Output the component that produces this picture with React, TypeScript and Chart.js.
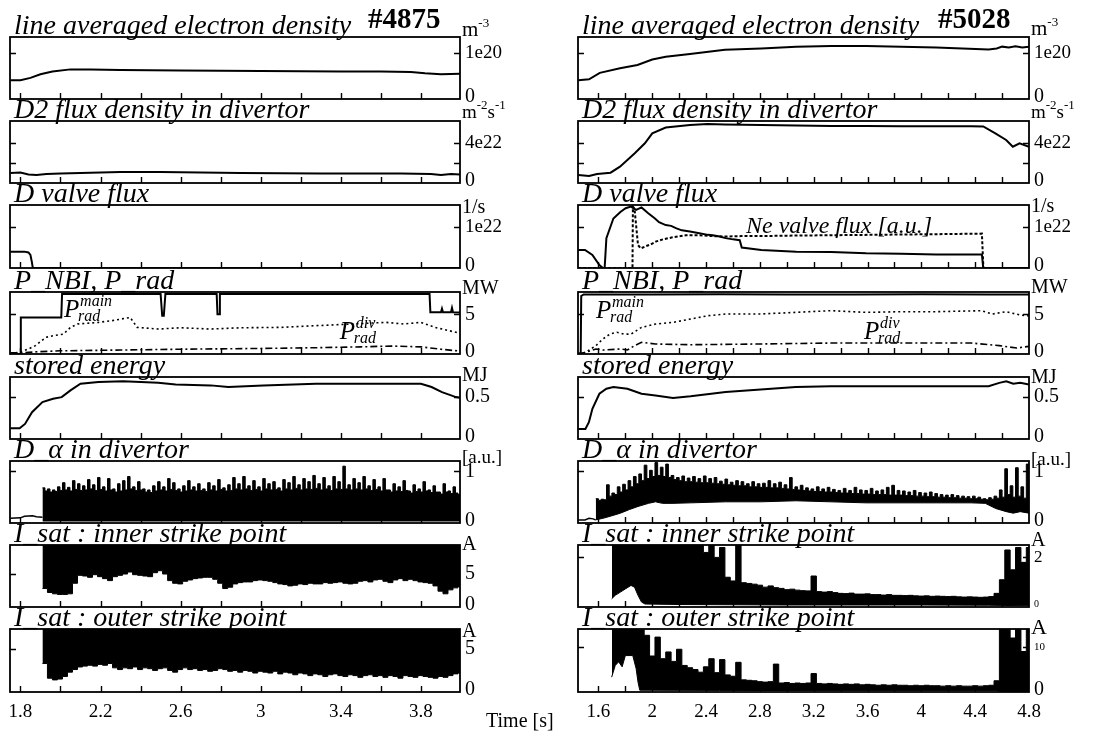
import React, { useEffect, useRef } from "react";
import { Chart, registerables } from "chart.js";

Chart.register(...registerables);

const SERIF = '"Liberation Serif", "DejaVu Serif", serif';

// ---------------- time axes ----------------
const leftXTicks = [1.8, 2.0, 2.2, 2.4, 2.6, 2.8, 3.0, 3.2, 3.4, 3.6, 3.8];
const leftXLabelValues = [1.8, 2.2, 2.6, 3.0, 3.4, 3.8];
const leftXLabels = ["1.8", "2.2", "2.6", "3", "3.4", "3.8"];
const rightXTicks = [1.6, 1.8, 2.0, 2.2, 2.4, 2.6, 2.8, 3.0, 3.2, 3.4, 3.6, 3.8, 4.0, 4.2, 4.4, 4.6];
const rightXLabelValues = [1.6, 2.0, 2.4, 2.8, 3.2, 3.6, 4.0, 4.4, 4.8];
const rightXLabels = ["1.6", "2", "2.4", "2.8", "3.2", "3.6", "4", "4.4", "4.8"];
const leftXRange = [1.748, 3.995];
const rightXRange = [1.448, 4.8];

// ---------------- row 1: line averaged electron density [1e20 m^-3] ----------------
const neLeftT = [1.75, 1.80, 1.85, 1.90, 1.96, 2.05, 2.15, 2.30, 2.45, 2.60, 2.80, 3.00, 3.20, 3.40, 3.60, 3.75, 3.82, 3.90, 4.00];
const neLeftV = [0.41, 0.41, 0.46, 0.54, 0.60, 0.645, 0.645, 0.63, 0.625, 0.62, 0.615, 0.61, 0.605, 0.60, 0.60, 0.59, 0.56, 0.54, 0.55];
const neRightT = [1.45, 1.53, 1.61, 1.76, 1.89, 2.00, 2.10, 2.28, 2.54, 2.81, 3.07, 3.33, 3.59, 3.85, 4.11, 4.50, 4.56, 4.60, 4.65, 4.70, 4.75, 4.80];
const neRightV = [0.41, 0.43, 0.57, 0.67, 0.74, 0.86, 0.92, 0.98, 1.07, 1.10, 1.14, 1.155, 1.155, 1.14, 1.12, 1.08, 1.10, 1.14, 1.12, 1.15, 1.12, 1.14];

// ---------------- row 2: D2 flux density in divertor [1e22 m^-2 s^-1] ----------------
const d2LeftT = [1.75, 1.80, 1.84, 1.88, 1.93, 2.00, 2.10, 2.30, 2.50, 2.70, 2.90, 3.10, 3.30, 3.50, 3.70, 3.85, 3.90, 3.95, 4.00];
const d2LeftV = [1.0, 1.05, 0.85, 0.8, 0.9, 0.95, 1.0, 1.1, 1.1, 1.05, 1.0, 0.97, 0.95, 0.95, 0.95, 0.9, 0.8, 0.9, 0.85];
const d2RightT = [1.45, 1.53, 1.59, 1.69, 1.76, 1.87, 1.945, 2.00, 2.10, 2.28, 2.41, 2.54, 2.81, 3.07, 3.33, 3.59, 3.85, 4.11, 4.37, 4.46, 4.55, 4.63, 4.68, 4.73, 4.80];
const d2RightV = [0.8, 0.7, 0.9, 1.03, 1.63, 2.97, 3.97, 4.97, 5.55, 5.8, 5.9, 5.85, 5.8, 5.75, 5.7, 5.7, 5.68, 5.68, 5.68, 5.65, 4.97, 4.3, 3.63, 3.97, 3.63];

// ---------------- row 3: D valve flux [1e22 /s], Ne valve flux [a.u.] ----------------
const dvLeftT = [1.75, 1.82, 1.84, 1.85, 1.857, 1.862, 4.00];
const dvLeftV = [0.40, 0.40, 0.38, 0.32, 0.15, 0, 0];
const dvRightT = [1.45, 1.50, 1.555, 1.607, 1.633, 1.646, 1.659, 1.711, 1.763, 1.802, 1.841, 1.88, 1.92, 1.97, 2.02, 2.05, 2.10, 2.14, 2.18, 2.22, 2.28, 2.33, 2.415, 2.45, 2.50, 2.545, 2.60, 2.65, 2.665, 2.81, 3.07, 3.33, 3.59, 3.85, 4.11, 4.45, 4.46, 4.80];
const dvRightV = [0.44, 0.44, 0.32, 0.07, 0, 0, 0.73, 1.21, 1.37, 1.46, 1.50, 1.42, 1.48, 1.34, 1.21, 1.12, 1.05, 1.03, 0.97, 0.92, 0.89, 0.86, 0.81, 0.80, 0.77, 0.73, 0.70, 0.68, 0.50, 0.44, 0.40, 0.39, 0.36, 0.35, 0.33, 0.33, 0, 0];
const neValveT = [1.45, 1.853, 1.856, 1.868, 1.894, 1.915, 1.95, 1.99, 2.03, 2.08, 2.15, 2.25, 2.35, 2.45, 2.55, 2.66, 2.8, 3.0, 3.3, 3.6, 3.9, 4.2, 4.45, 4.461, 4.80];
const neValveV = [0, 0, 1.50, 1.45, 0.56, 0.48, 0.53, 0.58, 0.65, 0.70, 0.75, 0.80, 0.80, 0.78, 0.77, 0.78, 0.78, 0.79, 0.80, 0.81, 0.82, 0.83, 0.84, 0, 0];

// ---------------- row 4: P_NBI, P_rad [MW] ----------------
const nbiLeftT = [1.75, 1.80, 1.802, 1.90, 2.004, 2.008, 2.50, 2.508, 2.516, 2.524, 2.78, 2.784, 2.792, 2.796, 3.843, 3.847, 3.90, 3.905, 3.91, 3.95, 3.955, 3.96, 4.00];
const nbiLeftV = [0, 0, 4.6, 4.6, 4.6, 7.55, 7.55, 4.8, 4.8, 7.55, 7.55, 5.0, 5.0, 7.55, 7.55, 5.25, 5.25, 5.7, 5.25, 5.25, 5.8, 5.25, 5.2];
const pradMainLeftT = [1.75, 1.796, 1.84, 1.875, 1.928, 1.963, 2.015, 2.05, 2.085, 2.19, 2.26, 2.348, 2.383, 2.488, 2.6, 2.75, 2.9, 3.1, 3.275, 3.45, 3.625, 3.713, 3.80, 3.87, 3.975, 4.0];
const pradMainLeftV = [0.1, 0.2, 0.63, 1.05, 2.1, 2.3, 2.5, 3.35, 3.77, 3.98, 4.2, 4.6, 3.35, 3.14, 3.3, 3.14, 3.3, 3.35, 3.56, 3.77, 3.98, 3.77, 3.98, 3.35, 2.73, 2.7];
const pradDivLeftT = [1.75, 1.80, 1.90, 2.0, 2.3, 2.6, 3.0, 3.3, 3.5, 3.65, 3.8, 3.9, 4.0];
const pradDivLeftV = [0.15, 0.15, 0.3, 0.4, 0.5, 0.6, 0.7, 0.8, 0.9, 1.0, 0.9, 0.6, 0.35];
const nbiRightT = [1.45, 1.468, 1.472, 1.49, 2.0, 2.5, 3.0, 3.5, 4.0, 4.5, 4.8];
const nbiRightV = [0, 0, 7.3, 7.5, 7.5, 7.52, 7.5, 7.5, 7.52, 7.5, 7.5];
const pradMainRightT = [1.45, 1.503, 1.581, 1.633, 1.685, 1.737, 1.789, 1.842, 1.92, 2.024, 2.154, 2.285, 2.415, 2.545, 2.806, 3.067, 3.327, 3.588, 3.849, 4.11, 4.448, 4.527, 4.63, 4.735, 4.80];
const pradMainRightV = [0.05, 0.2, 1.05, 1.89, 2.5, 2.73, 2.5, 2.5, 3.35, 3.77, 3.98, 4.4, 4.82, 5.03, 5.03, 5.24, 5.45, 5.24, 5.32, 5.32, 5.45, 5.03, 5.32, 4.9, 4.8];
const pradDivRightT = [1.45, 1.503, 1.581, 1.633, 1.763, 1.815, 1.868, 1.92, 2.024, 2.285, 2.806, 3.327, 3.849, 4.37, 4.579, 4.709, 4.80];
const pradDivRightV = [0.05, 0.2, 0.63, 0.5, 0.63, 0.5, 1.05, 1.47, 1.26, 1.17, 1.26, 1.38, 1.38, 1.38, 1.05, 0.75, 0.96];

// ---------------- row 5: stored energy [MJ] ----------------
const weLeftT = [1.75, 1.796, 1.823, 1.858, 1.91, 1.963, 2.006, 2.05, 2.10, 2.19, 2.313, 2.488, 2.575, 2.75, 2.838, 3.013, 3.275, 3.45, 3.625, 3.80, 3.853, 3.905, 3.975, 4.0];
const weLeftV = [0.128, 0.128, 0.18, 0.32, 0.44, 0.48, 0.50, 0.58, 0.66, 0.68, 0.69, 0.67, 0.65, 0.64, 0.62, 0.64, 0.66, 0.66, 0.66, 0.66, 0.62, 0.56, 0.50, 0.49];
const weRightT = [1.45, 1.503, 1.529, 1.555, 1.607, 1.659, 1.711, 1.815, 1.92, 2.024, 2.154, 2.285, 2.545, 2.806, 3.067, 3.327, 3.588, 3.849, 4.11, 4.50, 4.579, 4.631, 4.683, 4.735, 4.80];
const weRightV = [0.12, 0.12, 0.2, 0.36, 0.54, 0.6, 0.62, 0.6, 0.54, 0.52, 0.49, 0.51, 0.56, 0.59, 0.62, 0.63, 0.63, 0.63, 0.63, 0.63, 0.67, 0.69, 0.66, 0.67, 0.65];

// ---------------- row 6: D_alpha in divertor [a.u.] (upper / lower envelope of the noisy trace) ----------------
const daLeftPreT = [1.75, 1.80, 1.82, 1.86, 1.88, 1.91];
const daLeftPreV = [0.09, 0.10, 0.13, 0.14, 0.12, 0.11];
const daLeftTopStart = 1.91;
const daLeftTopStep = 0.0125;
const daLeftTop = [
  0.68, 0.62, 0.66, 0.60, 0.64, 0.61, 0.70, 0.63, 0.78, 0.64, 0.69, 0.62, 0.82, 0.65, 0.76, 0.63, 0.72, 0.64, 0.84, 0.66,
  0.74, 0.63, 0.88, 0.65, 0.70, 0.62, 0.86, 0.64, 0.66, 0.60, 0.76, 0.62, 0.82, 0.64, 0.90, 0.66, 0.70, 0.63, 0.80, 0.64,
  0.66, 0.60, 0.64, 0.59, 0.72, 0.62, 0.80, 0.64, 0.70, 0.62, 0.86, 0.65, 0.78, 0.63, 0.66, 0.60, 0.72, 0.62, 0.82, 0.64,
  0.70, 0.62, 0.76, 0.63, 0.66, 0.61, 0.78, 0.64, 0.72, 0.62, 0.84, 0.65, 0.68, 0.62, 0.74, 0.63, 0.88, 0.66, 0.76, 0.64,
  0.90, 0.66, 0.72, 0.63, 0.82, 0.65, 0.70, 0.62, 0.86, 0.66, 0.76, 0.64, 0.80, 0.65, 0.68, 0.62, 0.84, 0.66, 0.78, 0.64,
  0.90, 0.67, 0.74, 0.64, 0.86, 0.66, 0.80, 0.65, 0.92, 0.67, 0.76, 0.64, 0.88, 0.66, 0.72, 0.63, 0.90, 0.66, 0.80, 0.65,
  1.10, 0.66, 0.74, 0.64, 0.86, 0.66, 0.78, 0.64, 0.90, 0.66, 0.72, 0.63, 0.84, 0.65, 0.70, 0.62, 0.86, 0.64, 0.64, 0.60,
  0.76, 0.62, 0.70, 0.61, 0.82, 0.63, 0.62, 0.58, 0.74, 0.61, 0.66, 0.60, 0.80, 0.62, 0.64, 0.59, 0.72, 0.60, 0.60, 0.56,
  0.76, 0.60, 0.62, 0.57, 0.70, 0.58, 0.55, 0.52, 0.56,
];
const daLeftFloor = 0.03;
const daRightPreT = [1.45, 1.50, 1.53, 1.56, 1.578];
const daRightPreV = [0.06, 0.06, 0.09, 0.08, 0.06];
const daRightTopStart = 1.58;
const daRightTopStep = 0.02;
const daRightTop = [
  0.47, 0.44, 0.46, 0.45, 0.74, 0.52, 0.58, 0.55, 0.70, 0.60, 0.75, 0.64, 0.82, 0.70, 0.90, 0.76, 0.95, 0.82, 1.12, 0.86,
  1.02, 0.90, 1.17, 0.92, 1.08, 0.90, 1.14, 0.88, 0.92, 0.84, 0.88, 0.82, 0.91, 0.80, 0.87, 0.80, 0.90, 0.79, 0.86, 0.78,
  0.91, 0.78, 0.86, 0.77, 0.88, 0.76, 0.81, 0.75, 0.85, 0.74, 0.79, 0.73, 0.82, 0.72, 0.80, 0.72, 0.76, 0.70, 0.80, 0.70,
  0.76, 0.69, 0.77, 0.69, 0.82, 0.68, 0.76, 0.68, 0.79, 0.67, 0.74, 0.66, 0.88, 0.65, 0.70, 0.64, 0.73, 0.63, 0.68, 0.62,
  0.66, 0.61, 0.70, 0.61, 0.66, 0.60, 0.69, 0.60, 0.65, 0.59, 0.63, 0.58, 0.67, 0.58, 0.63, 0.57, 0.69, 0.57, 0.64, 0.56,
  0.63, 0.56, 0.67, 0.55, 0.62, 0.55, 0.64, 0.55, 0.69, 0.54, 0.73, 0.54, 0.63, 0.54, 0.62, 0.53, 0.60, 0.53, 0.63, 0.52,
  0.59, 0.52, 0.58, 0.51, 0.60, 0.51, 0.57, 0.50, 0.55, 0.50, 0.54, 0.49, 0.55, 0.49, 0.53, 0.48, 0.52, 0.48, 0.51, 0.47,
  0.52, 0.47, 0.50, 0.46, 0.47, 0.45, 0.49, 0.46, 0.52, 0.48, 0.64, 0.50, 1.05, 0.55, 0.72, 0.50, 1.07, 0.52, 0.70, 0.48,
  1.14, 0.55, 0.85,
];
const daRightLowT = [1.576, 1.633, 1.70, 1.763, 1.83, 1.894, 1.972, 2.024, 2.076, 2.154, 2.285, 2.545, 2.806, 3.067, 3.327, 3.588, 3.849, 4.11, 4.37, 4.475, 4.553, 4.631, 4.683, 4.735, 4.80];
const daRightLowV = [0.06, 0.09, 0.14, 0.19, 0.26, 0.32, 0.38, 0.41, 0.38, 0.38, 0.39, 0.41, 0.41, 0.43, 0.41, 0.39, 0.39, 0.39, 0.39, 0.38, 0.28, 0.22, 0.19, 0.22, 0.19];

// ---------------- row 7: I_sat inner strike point [A] ----------------
const isiLeftTopT = [1.91, 4.01];
const isiLeftTopV = [20, 20];
const isiLeftLowStart = 1.91;
const isiLeftLowStep = 0.025;
const isiLeftLow = [
  2.8, 2.2, 2.0, 1.9, 1.9, 2.0, 3.6, 4.8, 4.7, 4.5,
  4.9, 4.6, 4.3, 4.0, 4.6, 4.8, 5.0, 5.3, 4.9, 4.8,
  4.7, 4.6, 5.2, 5.5, 5.0, 4.0, 3.6, 3.5, 3.9, 4.1,
  4.3, 4.4, 4.5, 4.5, 4.2, 3.6, 2.8, 3.0, 3.5, 3.7,
  3.8, 3.8, 4.0, 4.1, 4.0, 3.9, 3.7, 3.5, 3.4, 3.2,
  3.3, 3.5, 3.4, 3.6, 3.5, 3.5, 3.7, 3.6, 3.7, 3.8,
  3.6, 3.5, 3.6, 3.9, 4.0, 3.8, 4.1, 4.2, 3.9, 3.7,
  4.1, 4.3, 4.0, 4.2, 4.0, 3.8, 3.7, 3.6, 3.2, 2.4,
  2.0, 2.6, 2.9, 3.1, 3.1,
];
const isiRightTopStart = 1.70;
const isiRightTopStep = 0.04;
const isiRightTop = [
  3, 3, 3, 3, 3, 3, 3, 3, 3, 3,
  3, 3, 3, 3, 3, 3, 2.6, 2.2, 2.5, 2.0,
  2.4, 1.2, 1.05, 2.6, 0.98, 0.95, 0.92, 0.88, 0.80, 0.85,
  0.78, 0.75, 0.70, 0.72, 0.68, 0.66, 0.65, 1.25, 0.62, 0.60,
  0.62, 0.58, 0.55, 0.54, 0.56, 0.52, 0.52, 0.53, 0.50, 0.50,
  0.48, 0.50, 0.47, 0.47, 0.46, 0.47, 0.45, 0.44, 0.45, 0.43,
  0.44, 0.43, 0.42, 0.43, 0.41, 0.40, 0.41, 0.40, 0.39, 0.40,
  0.42, 0.55, 1.10, 2.30, 1.50, 2.40, 1.80, 2.40, 2.0,
];
const isiRightLowT = [1.698, 1.725, 1.763, 1.80, 1.842, 1.868, 1.894, 1.92, 1.946, 2.2, 2.6, 3.0, 3.5, 4.0, 4.5, 4.8];
const isiRightLowV = [0.33, 0.47, 0.6, 0.73, 0.87, 0.8, 0.47, 0.2, 0.12, 0.1, 0.09, 0.08, 0.08, 0.08, 0.07, 0.05];

// ---------------- row 8: I_sat outer strike point [A] ----------------
const isoLeftTopT = [1.91, 4.01];
const isoLeftTopV = [20, 20];
const isoLeftLowStart = 1.91;
const isoLeftLowStep = 0.025;
const isoLeftLow = [
  3.3, 1.6, 1.4, 1.5, 1.8, 2.3, 2.6, 2.9, 3.0, 3.1,
  3.0, 3.2, 3.1, 3.3, 2.8, 2.6, 2.8, 2.7, 2.9, 2.6,
  2.8, 2.7, 2.5, 2.7, 2.8, 2.5, 2.3, 2.6, 2.8, 2.6,
  2.7, 2.5, 2.6, 2.4, 2.5, 2.7, 2.6, 2.4, 2.5, 2.3,
  2.5, 2.4, 2.2, 2.4, 2.3, 2.2, 2.4, 2.1, 2.3, 2.2,
  2.0, 2.2, 2.1, 1.9, 2.1, 2.0, 1.8, 2.0, 2.1, 1.9,
  1.8, 2.0, 1.9, 1.7, 1.9, 2.0, 1.8, 1.9, 1.7, 1.9,
  1.8, 1.6, 1.9, 1.8, 1.7, 1.9, 1.8, 1.7, 1.6, 1.8,
  1.7, 1.9, 2.1, 2.2, 2.2,
];
const isoRightTopStart = 1.70;
const isoRightTopStep = 0.04;
const isoRightTop = [
  20, 20, 20, 20, 20, 13.8, 12.6, 8.0, 12.2, 7.4,
  8.9, 6.8, 9.5, 5.9, 5.4, 5.0, 4.4, 5.6, 7.4, 4.3,
  7.2, 3.8, 3.5, 6.6, 2.7, 2.6, 2.5, 2.3, 2.2, 2.3,
  6.2, 2.0, 2.1, 1.9, 2.0, 1.9, 2.0, 4.1, 1.9, 1.8,
  1.9, 1.8, 1.7, 1.8, 1.7, 1.8, 1.6, 1.7, 1.6, 1.5,
  1.6, 1.5, 1.6, 1.5, 1.5, 1.4, 1.5, 1.4, 1.5, 1.4,
  1.4, 1.3, 1.4, 1.3, 1.4, 1.3, 1.3, 1.4, 1.3, 1.4,
  1.5, 2.5, 16, 14, 12, 16, 9, 16, 14,
];
const isoRightLowT = [1.698, 1.725, 1.75, 1.776, 1.80, 1.855, 1.88, 1.894, 1.907, 2.5, 3.5, 4.55, 4.6, 4.8];
const isoRightLowV = [3.3, 5.9, 6.7, 5.6, 8.1, 8.1, 5.2, 2.2, 0.4, 0.35, 0.3, 0.3, 0.1, 0.1];

// ---------------- helpers ----------------
const xy = (t: number[], v: number[]) => t.map((x, i) => ({ x, y: v[i] }));
const grid = (t0: number, dt: number, v: number[]) => v.map((y, i) => ({ x: Math.round((t0 + i * dt) * 10000) / 10000, y }));

const base = { borderColor: "#000", pointRadius: 0, tension: 0, fill: false };
const solid = (data: any[], w = 2) => ({ ...base, data, borderWidth: w });
const dashed = (data: any[], dash: number[], w = 1.6) => ({ ...base, data, borderWidth: w, borderDash: dash });
const bandTop = (data: any[], fill: any = "+1") => ({ ...base, data, borderWidth: 1, stepped: true, fill, backgroundColor: "#000" });
const bandLow = (data: any[], stepped = false) => ({ ...base, data, borderWidth: 1, stepped });

type Seg = { t: string; s: number; sup?: boolean };
const unitDensity: Seg[] = [{ t: "m", s: 21 }, { t: "-3", s: 13, sup: true }];
const unitFlux: Seg[] = [{ t: "m", s: 19 }, { t: "-2", s: 13, sup: true }, { t: "s", s: 19 }, { t: "-1", s: 13, sup: true }];

const COL_LEFT = [10, 578];
const COL_WIDTH = [450, 451];
const ROW_TOP = [37, 121, 205, 292, 377, 461, 545, 629];
const ROW_HEIGHT = [62, 62, 63, 62, 62, 62, 62, 63];
const PAD_L = 10, PAD_T = 36, PAD_R = 68;

type Note = { kind: "prad" | "text"; t: number; v: number; text: string };
type Panel = {
  col: number; row: number; title: string; ymax: number; yTicks: number[];
  labels: { v: number; t: string; s: number; dy?: number }[];
  unit: Seg[]; unitDy: number; datasets: any[]; notes?: Note[]; shot?: string;
};

const zeroLabel = { v: 0, t: "0", s: 20, dy: -2 };

const panels: Panel[] = [
  // ----- left column (#4875) -----
  { col: 0, row: 0, title: "line averaged electron density", ymax: 1.35, yTicks: [1], labels: [{ v: 1, t: "1e20", s: 19 }, zeroLabel], unit: unitDensity, unitDy: -1, shot: "#4875",
    datasets: [solid(xy(neLeftT, neLeftV))] },
  { col: 0, row: 1, title: "D2 flux density in divertor", ymax: 6.2, yTicks: [2, 4], labels: [{ v: 4, t: "4e22", s: 19 }, zeroLabel], unit: unitFlux, unitDy: -3,
    datasets: [solid(xy(d2LeftT, d2LeftV))] },
  { col: 0, row: 2, title: "D valve flux", ymax: 1.54, yTicks: [1], labels: [{ v: 1, t: "1e22", s: 19 }, zeroLabel], unit: [{ t: "1/s", s: 20 }], unitDy: 8,
    datasets: [solid(xy(dvLeftT, dvLeftV))] },
  { col: 0, row: 3, title: "P_NBI, P_rad", ymax: 7.8, yTicks: [5], labels: [{ v: 5, t: "5", s: 20 }, zeroLabel], unit: [{ t: "MW", s: 20 }], unitDy: 2,
    datasets: [solid(xy(nbiLeftT, nbiLeftV)), dashed(xy(pradMainLeftT, pradMainLeftV), [2, 3]), dashed(xy(pradDivLeftT, pradDivLeftV), [7, 3, 2, 3])],
    notes: [{ kind: "prad", t: 2.018, v: 4.65, text: "main" }, { kind: "prad", t: 3.395, v: 1.9, text: "div" }] },
  { col: 0, row: 4, title: "stored energy", ymax: 0.74, yTicks: [0.5], labels: [{ v: 0.5, t: "0.5", s: 20 }, zeroLabel], unit: [{ t: "MJ", s: 20 }], unitDy: 4,
    datasets: [solid(xy(weLeftT, weLeftV))] },
  { col: 0, row: 5, title: "D_\u03b1 in divertor", ymax: 1.2, yTicks: [1], labels: [{ v: 1, t: "1", s: 20 }, zeroLabel], unit: [{ t: "[a.u.]", s: 19 }], unitDy: 2,
    datasets: [solid(xy(daLeftPreT, daLeftPreV), 1.5), bandTop(grid(daLeftTopStart, daLeftTopStep, daLeftTop), { value: daLeftFloor })] },
  { col: 0, row: 6, title: "I_sat : inner strike point", ymax: 9.4, yTicks: [5], labels: [{ v: 5, t: "5", s: 20 }, zeroLabel], unit: [{ t: "A", s: 20 }], unitDy: 5,
    datasets: [bandTop(xy(isiLeftTopT, isiLeftTopV)), bandLow(grid(isiLeftLowStart, isiLeftLowStep, isiLeftLow), true)] },
  { col: 0, row: 7, title: "I_sat : outer strike point", ymax: 7.3, yTicks: [5], labels: [{ v: 5, t: "5", s: 20 }, zeroLabel], unit: [{ t: "A", s: 20 }], unitDy: 8,
    datasets: [bandTop(xy(isoLeftTopT, isoLeftTopV)), bandLow(grid(isoLeftLowStart, isoLeftLowStep, isoLeftLow), true)] },
  // ----- right column (#5028) -----
  { col: 1, row: 0, title: "line averaged electron density", ymax: 1.35, yTicks: [1], labels: [{ v: 1, t: "1e20", s: 19 }, zeroLabel], unit: unitDensity, unitDy: -2, shot: "#5028",
    datasets: [solid(xy(neRightT, neRightV))] },
  { col: 1, row: 1, title: "D2 flux density in divertor", ymax: 6.2, yTicks: [2, 4], labels: [{ v: 4, t: "4e22", s: 19 }, zeroLabel], unit: unitFlux, unitDy: -3,
    datasets: [solid(xy(d2RightT, d2RightV))] },
  { col: 1, row: 2, title: "D valve flux", ymax: 1.54, yTicks: [1], labels: [{ v: 1, t: "1e22", s: 19 }, zeroLabel], unit: [{ t: "1/s", s: 20 }], unitDy: 7,
    datasets: [solid(xy(dvRightT, dvRightV)), dashed(xy(neValveT, neValveV), [3, 2], 2)],
    notes: [{ kind: "text", t: 2.697, v: 0.86, text: "Ne valve flux [a.u.]" }] },
  { col: 1, row: 3, title: "P_NBI, P_rad", ymax: 7.8, yTicks: [5], labels: [{ v: 5, t: "5", s: 20 }, zeroLabel], unit: [{ t: "MW", s: 20 }], unitDy: 1,
    datasets: [solid(xy(nbiRightT, nbiRightV)), dashed(xy(pradMainRightT, pradMainRightV), [2, 3]), dashed(xy(pradDivRightT, pradDivRightV), [7, 3, 2, 3])],
    notes: [{ kind: "prad", t: 1.582, v: 4.55, text: "main" }, { kind: "prad", t: 3.574, v: 1.9, text: "div" }] },
  { col: 1, row: 4, title: "stored energy", ymax: 0.74, yTicks: [0.5], labels: [{ v: 0.5, t: "0.5", s: 20 }, zeroLabel], unit: [{ t: "MJ", s: 20 }], unitDy: 6,
    datasets: [solid(xy(weRightT, weRightV))] },
  { col: 1, row: 5, title: "D_\u03b1 in divertor", ymax: 1.2, yTicks: [1], labels: [{ v: 1, t: "1", s: 20 }, zeroLabel], unit: [{ t: "[a.u.]", s: 19 }], unitDy: 4,
    datasets: [solid(xy(daRightPreT, daRightPreV), 1.5), bandTop(grid(daRightTopStart, daRightTopStep, daRightTop)), bandLow(xy(daRightLowT, daRightLowV))] },
  { col: 1, row: 6, title: "I_sat : inner strike point", ymax: 2.5, yTicks: [2], labels: [{ v: 2, t: "2", s: 17 }, { v: 0, t: "0", s: 10, dy: -3 }], unit: [{ t: "A", s: 20 }], unitDy: 1,
    datasets: [bandTop(grid(isiRightTopStart, isiRightTopStep, isiRightTop)), bandLow(xy(isiRightLowT, isiRightLowV))] },
  { col: 1, row: 7, title: "I_sat : outer strike point", ymax: 14, yTicks: [10], labels: [{ v: 10, t: "10", s: 11 }, zeroLabel], unit: [{ t: "A", s: 22 }], unitDy: 5,
    datasets: [bandTop(grid(isoRightTopStart, isoRightTopStep, isoRightTop)), bandLow(xy(isoRightLowT, isoRightLowV))] },
];

function drawSegs(ctx: CanvasRenderingContext2D, segs: Seg[], x: number, y: number) {
  for (const g of segs) {
    ctx.font = `${g.s}px ${SERIF}`;
    ctx.fillText(g.t, x, g.sup ? y - 9 : y);
    x += ctx.measureText(g.t).width;
  }
}

function drawDeco(chart: any, p: Panel) {
  const { ctx, chartArea: a, scales } = chart;
  const xs = scales.x, ys = scales.y;
  const xTicks = p.col === 0 ? leftXTicks : rightXTicks;
  ctx.save();
  ctx.strokeStyle = "#000";
  ctx.fillStyle = "#000";
  ctx.setLineDash([]);
  // frame
  ctx.lineWidth = 1.8;
  ctx.strokeRect(a.left, a.top, a.right - a.left, a.bottom - a.top);
  // inward ticks
  ctx.lineWidth = 1.4;
  ctx.beginPath();
  for (const t of xTicks) {
    const x = Math.round(xs.getPixelForValue(t)) + 0.5;
    ctx.moveTo(x, a.bottom);
    ctx.lineTo(x, a.bottom - 6);
  }
  for (const v of p.yTicks) {
    const y = Math.round(ys.getPixelForValue(v)) + 0.5;
    ctx.moveTo(a.left, y);
    ctx.lineTo(a.left + 6, y);
    ctx.moveTo(a.right, y);
    ctx.lineTo(a.right - 6, y);
  }
  ctx.stroke();
  // title
  ctx.textAlign = "left";
  ctx.textBaseline = "alphabetic";
  ctx.font = `italic 28px ${SERIF}`;
  ctx.fillText(p.title, a.left + 4, a.top - 3);
  if (p.shot) {
    ctx.font = `bold 29px ${SERIF}`;
    ctx.fillText(p.shot, a.left + 358 + p.col * 2, a.top - 9);
  }
  // unit
  drawSegs(ctx, p.unit, a.right + 2, a.top + p.unitDy);
  // y labels
  ctx.textBaseline = "middle";
  for (const l of p.labels) {
    ctx.font = `${l.s}px ${SERIF}`;
    ctx.fillText(l.t, a.right + 5, ys.getPixelForValue(l.v) + (l.dy || 0));
  }
  // annotations
  ctx.textBaseline = "alphabetic";
  for (const n of p.notes || []) {
    const x = xs.getPixelForValue(n.t);
    const y = ys.getPixelForValue(n.v);
    if (n.kind === "prad") {
      ctx.font = `italic 25px ${SERIF}`;
      ctx.fillText("P", x, y);
      ctx.font = `italic 16px ${SERIF}`;
      ctx.fillText(n.text, x + 16, y - 11);
      ctx.fillText("rad", x + 14, y + 4);
    } else {
      ctx.font = `italic 24px ${SERIF}`;
      ctx.fillText(n.text, x, y);
    }
  }
  // time axis labels on the bottom row
  if (p.row === 7) {
    const vals = p.col === 0 ? leftXLabelValues : rightXLabelValues;
    const txt = p.col === 0 ? leftXLabels : rightXLabels;
    ctx.font = `19px ${SERIF}`;
    ctx.textAlign = "center";
    ctx.textBaseline = "middle";
    vals.forEach((v, i) => ctx.fillText(txt[i], xs.getPixelForValue(v), a.bottom + 20));
  }
  ctx.restore();
}

function PanelChart({ p }: { p: Panel }) {
  const ref = useRef<HTMLCanvasElement | null>(null);
  const padB = p.row === 7 ? 36 : 14;
  const w = COL_WIDTH[p.col] + PAD_L + PAD_R;
  const h = ROW_HEIGHT[p.row] + PAD_T + padB;
  const left = COL_LEFT[p.col] - PAD_L;
  const top = ROW_TOP[p.row] - PAD_T;
  useEffect(() => {
    const xr = p.col === 0 ? leftXRange : rightXRange;
    const chart = new Chart(ref.current as HTMLCanvasElement, {
      type: "line",
      data: { datasets: p.datasets },
      options: {
        responsive: false,
        animation: false,
        events: [],
        layout: { padding: { left: PAD_L, right: PAD_R, top: PAD_T, bottom: padB } },
        scales: {
          x: { type: "linear", min: xr[0], max: xr[1], display: false },
          y: { type: "linear", min: 0, max: p.ymax, display: false },
        },
        plugins: { legend: { display: false }, tooltip: { enabled: false }, title: { display: false } },
      } as any,
      plugins: [{ id: "deco", afterDraw: (c: any) => drawDeco(c, p) }],
    });
    return () => chart.destroy();
  }, [p]);
  return (
    <canvas
      ref={ref}
      width={w}
      height={h}
      style={{ position: "absolute", left, top, width: w, height: h }}
    />
  );
}

export default function App() {
  return (
    <div style={{ position: "fixed", left: 0, top: 0, width: 1097, height: 736, background: "#fff", overflow: "hidden" }}>
      {panels.map((p, i) => (
        <PanelChart key={i} p={p} />
      ))}
      <div style={{ position: "absolute", left: 486, top: 710, font: `20px ${SERIF}`, lineHeight: "20px", whiteSpace: "nowrap", color: "#000" }}>
        Time [s]
      </div>
    </div>
  );
}
